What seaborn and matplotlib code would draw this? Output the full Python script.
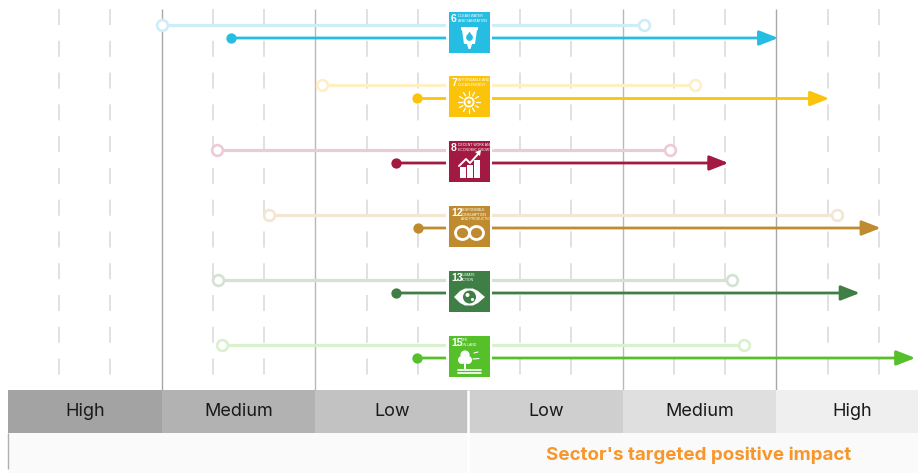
import numpy as np
import pandas as pd
import seaborn as sns
import matplotlib.pyplot as plt
from matplotlib.patches import Circle, Ellipse, Polygon, Rectangle

sns.set_theme(style="white")
plt.rcParams['font.family'] = ['Inter', 'DejaVu Sans']

# x values are on the impact scale: 0 is the middle, each band is one unit wide
goal_numbers = ["6", "7", "8", "12", "13", "15"]
goal_captions = [
    "CLEAN WATER\nAND SANITATION",
    "AFFORDABLE AND\nCLEAN ENERGY",
    "DECENT WORK AND\nECONOMIC GROWTH",
    "RESPONSIBLE\nCONSUMPTION\nAND PRODUCTION",
    "CLIMATE\nACTION",
    "LIFE\nON LAND",
]
target_start = [-1.997, -0.956, -1.639, -1.301, -1.633, -1.607]
target_end = [1.139, 1.471, 1.307, 2.395, 1.711, 1.789]
current_start = [-1.549, -0.338, -0.475, -0.332, -0.475, -0.338]
current_end = [2.012, 2.344, 1.688, 2.679, 2.543, 2.904]

band_labels = ["High", "Medium", "Low", "Low", "Medium", "High"]
band_edges = [-3, -2, -1, 0, 1, 2, 3]
footer_label = "Sector's targeted positive impact"

# layout and colours
goal_colors = ["#26bde2", "#fcc30b", "#a21942", "#bf8b2e", "#3f7e44", "#56c02b"]
light_colors = ["#cdeef8", "#feefc4", "#ebccd6", "#f2e7d3", "#d3e2d4", "#d9f1ce"]
band_colors = ["#a3a3a3", "#b2b2b2", "#c2c2c2", "#cfcfcf", "#dfdfdf", "#efefef"]
target_y = [25, 85, 150, 215, 280, 345]
current_y = [38, 98.5, 163, 228, 293, 358]
icon_top = [12, 76, 141, 206, 271, 336]

CAPTION_FONT = ["Liberation Sans", "DejaVu Sans"]
W, H = 918, 473
CENTER, BAND = 469.0, 153.7


def to_x(px):
    return (px - CENTER) / BAND


def draw_grid(ax):
    minor = [e + f for e in band_edges[:-1] for f in (1 / 3, 2 / 3)]
    ax.vlines(minor, 9, 390, color="#d9d9d9", lw=1.1,
              linestyles=[(0, (10.5, 10.3))], zorder=1)
    ax.vlines([-2, 2], 9, 390, color="#a8a8a8", lw=1.0, zorder=1)
    ax.vlines([-1, 1], 9, 390, color="#b8b8b8", lw=1.0, zorder=1)


def draw_bands(ax):
    for i, label in enumerate(band_labels):
        ax.add_patch(Rectangle((band_edges[i], 390), 1, 43, color=band_colors[i], lw=0, zorder=2))
        mid = (band_edges[i] + band_edges[i + 1]) / 2
        if i == 5:
            mid = to_x(852)
        ax.text(mid, 411.5, label, ha="center", va="center", fontsize=13, color="#1a1a1a", zorder=4)
    ax.add_patch(Rectangle((to_x(7.5), 433), 6, 40, color="#fafafa", lw=0, zorder=2))
    ax.vlines(to_x(7.5), 433, 469, color="#b0b0b0", lw=1.0, zorder=3)
    ax.vlines(to_x(468), 390, 473, color="white", lw=1.8, zorder=3)
    ax.text(to_x(699), 455, footer_label, ha="center", va="center", fontsize=13.5,
            fontweight="bold", color="#f7972b", zorder=4)


def draw_rows(ax):
    for i in range(len(goal_numbers)):
        target = pd.DataFrame({"x": [target_start[i], target_end[i]], "y": [target_y[i]] * 2})
        sns.lineplot(data=target, x="x", y="y", color=light_colors[i], lw=2.3,
                     estimator=None, sort=False, legend=False, ax=ax, zorder=3)
        sns.scatterplot(data=target, x="x", y="y", s=60, facecolor="white",
                        edgecolor=light_colors[i], linewidth=1.9, legend=False, ax=ax, zorder=4)
        ax.annotate("", xy=(current_end[i], current_y[i]), xytext=(current_start[i], current_y[i]),
                    arrowprops=dict(arrowstyle="-|>,head_length=1.15,head_width=0.45", mutation_scale=10,
                                    color=goal_colors[i], lw=2.0, shrinkA=0, shrinkB=0), zorder=5)
        start = pd.DataFrame({"x": [current_start[i]], "y": [current_y[i]]})
        sns.scatterplot(data=start, x="x", y="y", s=55, color=goal_colors[i], linewidth=0,
                        legend=False, ax=ax, zorder=6)
        # white gap that the lines stop at, either side of the icon
        ax.add_patch(Rectangle((to_x(446), icon_top[i]), to_x(492) - to_x(446), 41,
                               color="white", lw=0, zorder=7))


def glyph_water(a, c):
    a.add_patch(Polygon([(12, 15), (29, 15), (29, 18), (28, 18), (26, 32), (23, 32), (21.5, 37),
                         (19.5, 37), (18, 32), (15, 32), (13, 18), (12, 18)], color="white", lw=0))
    a.add_patch(Circle((20.5, 25.5), 3.4, color=c, lw=0))
    a.add_patch(Polygon([(20.5, 19.5), (17.6, 24.5), (23.4, 24.5)], color=c, lw=0))


def glyph_sun(a, c):
    a.add_patch(Circle((20, 26), 4.6, fill=False, ec="white", lw=1.3))
    a.add_patch(Circle((20, 26), 1.8, color="white", lw=0))
    for t in np.arange(0, 360, 30):
        dx, dy = np.cos(np.radians(t)), np.sin(np.radians(t))
        a.plot([20 + 7 * dx, 20 + 11 * dx], [26 + 7 * dy, 26 + 11 * dy], color="white", lw=0.9)


def glyph_growth(a, c):
    for x0, top in [(10.5, 26), (18, 24), (25, 19)]:
        a.add_patch(Rectangle((x0, top), 6, 37 - top, color="white", lw=0))
    a.plot([10, 17, 21, 30], [25, 18, 22, 12], color="white", lw=1.4)
    a.add_patch(Polygon([(32, 9), (26, 11), (31, 15)], color="white", lw=0))


def glyph_infinity(a, c):
    a.add_patch(Ellipse((13.5, 27), 14, 13, fill=False, ec="white", lw=2.0))
    a.add_patch(Ellipse((27.5, 27), 14, 13, fill=False, ec="white", lw=2.0))


def glyph_eye(a, c):
    a.add_patch(Polygon([(5, 26), (11, 20), (16, 17.5), (24, 17.5), (29, 20), (36, 26),
                         (29, 32), (24, 34.5), (16, 34.5), (11, 32)], color="white", lw=0))
    a.add_patch(Circle((20.5, 26), 6.5, color=c, lw=0))
    a.add_patch(Circle((18.5, 24), 2.0, color="white", lw=0))
    a.add_patch(Circle((23.5, 28.5), 1.6, color="white", lw=0))


def glyph_tree(a, c):
    a.add_patch(Circle((16, 19), 4.6, color="white", lw=0))
    a.add_patch(Circle((13, 24), 4.0, color="white", lw=0))
    a.add_patch(Circle((19, 24), 4.0, color="white", lw=0))
    a.add_patch(Rectangle((15, 26), 2.4, 7, color="white", lw=0))
    a.plot([25, 29], [17, 16], color="white", lw=0.8)
    a.plot([24, 30], [23, 22.5], color="white", lw=0.8)
    a.plot([9, 32], [33.5, 33.5], color="white", lw=1.2)
    a.plot([9, 32], [36.5, 36.5], color="white", lw=1.2)


glyphs = [glyph_water, glyph_sun, glyph_growth, glyph_infinity, glyph_eye, glyph_tree]


def draw_icons(fig):
    for i, top in enumerate(icon_top):
        a = fig.add_axes([449 / W, 1 - (top + 41) / H, 41 / W, 41 / H], zorder=5)
        a.set_xlim(0, 41)
        a.set_ylim(41, 0)
        a.set_facecolor(goal_colors[i])
        a.set_xticks([])
        a.set_yticks([])
        for s in a.spines.values():
            s.set_visible(False)
        a.text(2, 1.5, goal_numbers[i], ha="left", va="top", color="white", fontsize=7.5,
               fontweight="bold", family=CAPTION_FONT)
        cap_x = 9 if len(goal_numbers[i]) == 1 else 12
        a.text(cap_x, 2.2, goal_captions[i], ha="left", va="top", color="white", fontsize=2.5,
               linespacing=1.15, family=CAPTION_FONT)
        glyphs[i](a, goal_colors[i])


def main():
    fig = plt.figure(figsize=(W / 100, H / 100), dpi=100, facecolor="white")
    ax = fig.add_axes([0, 0, 1, 1])
    ax.set_xlim(to_x(0), to_x(W))
    ax.set_ylim(H, 0)
    draw_grid(ax)
    draw_bands(ax)
    draw_rows(ax)
    ax.set_xlim(to_x(0), to_x(W))
    ax.set_ylim(H, 0)
    ax.axis("off")
    draw_icons(fig)
    fig.savefig("out.png", dpi=100)


if __name__ == "__main__":
    main()
